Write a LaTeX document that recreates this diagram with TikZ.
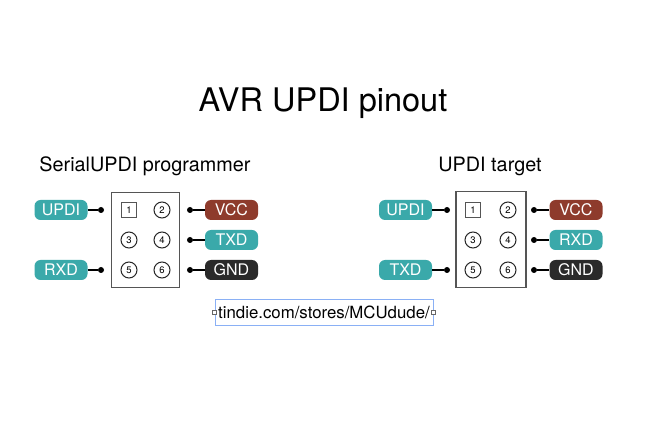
\documentclass[tikz,border=0pt]{standalone}
\usepackage{fontspec}
\setmainfont{TeX Gyre Heros}
\definecolor{sigteal}{HTML}{3AA9AA}
\definecolor{pwrred}{HTML}{8E3B2C}
\definecolor{gnddark}{HTML}{2A2A2A}
\definecolor{pinframe}{HTML}{555555}
\definecolor{selblue}{HTML}{8AB0F5}
\begin{document}
\begin{tikzpicture}[x=1pt,y=-1pt,
  sig/.style={rounded corners=6pt, minimum width=53pt, minimum height=20pt, inner sep=0pt,
    text=white, font=\fontsize{16}{16}\selectfont},
  tealsig/.style={sig, fill=sigteal},
  redsig/.style={sig, fill=pwrred},
  darksig/.style={sig, fill=gnddark},
  header/.style={draw=pinframe, line width=1.2pt, inner sep=0pt},
  sqpin/.style={draw=pinframe, line width=1pt, minimum size=15pt, inner sep=0pt, font=\fontsize{9.5}{9.5}\selectfont},
  rdpin/.style={circle, draw=black!85, line width=1pt, minimum size=16pt, inner sep=0pt, font=\fontsize{9.5}{9.5}\selectfont},
  dot/.style={circle, fill=black, minimum size=6pt, inner sep=0pt},
  lead/.style={line width=1.4pt}
]
\useasboundingbox (0,0) rectangle (653,435);

\node[font=\fontsize{32.5}{32.5}\selectfont] (title) at (323,103) {AVR UPDI pinout};

% ---- SerialUPDI programmer ----
\node[font=\fontsize{19.8}{19.8}\selectfont] (lhead) at (145,166) {SerialUPDI programmer};
\node[header, minimum width=68pt, minimum height=95pt] (lbox) at (145.5,240) {};
\node[sqpin] (lp1) at (129,210) {1};
\node[rdpin] (lp2) at (162,210) {2};
\node[rdpin] (lp3) at (129,240) {3};
\node[rdpin] (lp4) at (162,240) {4};
\node[rdpin] (lp5) at (129,270) {5};
\node[rdpin] (lp6) at (162,270) {6};

\node[tealsig] (lupdi) at (61,210) {UPDI};
\node[tealsig] (lrxd)  at (61,270) {RXD};
\node[redsig]  (lvcc)  at (231.5,210) {VCC};
\node[tealsig] (ltxd)  at (231.5,240) {TXD};
\node[darksig] (lgnd)  at (231.5,270) {GND};

\node[dot] (ld1) at (101,210) {};
\node[dot] (ld5) at (101,270) {};
\node[dot] (ld2) at (190,210) {};
\node[dot] (ld4) at (190,240) {};
\node[dot] (ld6) at (190,270) {};
\draw[lead] (lupdi) -- (ld1);
\draw[lead] (lrxd) -- (ld5);
\draw[lead] (ld2) -- (lvcc);
\draw[lead] (ld4) -- (ltxd);
\draw[lead] (ld6) -- (lgnd);

% ---- UPDI target ----
\node[font=\fontsize{19.8}{19.8}\selectfont] (rhead) at (490,166) {UPDI target};
\node[header, minimum width=70pt, minimum height=96pt] (rbox) at (491,239.5) {};
\node[sqpin] (rp1) at (473,210) {1};
\node[rdpin] (rp2) at (508,210) {2};
\node[rdpin] (rp3) at (473,240) {3};
\node[rdpin] (rp4) at (508,240) {4};
\node[rdpin] (rp5) at (473,270) {5};
\node[rdpin] (rp6) at (508,270) {6};

\node[tealsig] (rupdi) at (405.5,210) {UPDI};
\node[tealsig] (rtxd)  at (405.5,270) {TXD};
\node[redsig]  (rvcc)  at (576,210) {VCC};
\node[tealsig] (rrxd)  at (576,240) {RXD};
\node[darksig] (rgnd)  at (576,270) {GND};

\node[dot] (rd1) at (447,210) {};
\node[dot] (rd5) at (447,270) {};
\node[dot] (rd2) at (534,210) {};
\node[dot] (rd4) at (534,240) {};
\node[dot] (rd6) at (534,270) {};
\draw[lead] (rupdi) -- (rd1);
\draw[lead] (rtxd) -- (rd5);
\draw[lead] (rd2) -- (rvcc);
\draw[lead] (rd4) -- (rrxd);
\draw[lead] (rd6) -- (rgnd);

% ---- link text with selection frame ----
\node[draw=selblue, line width=0.9pt, minimum width=218pt, minimum height=26pt, inner sep=0pt,
  font=\fontsize{16.8}{16.8}\selectfont] (url) at (324,312) {tindie.com/stores/MCUdude/};
\node[draw=black!60, fill=white, line width=0.4pt, minimum size=4pt, inner sep=0pt] (hl) at (url.west) {};
\node[draw=black!60, fill=white, line width=0.4pt, minimum size=4pt, inner sep=0pt] (hr) at (url.east) {};
\end{tikzpicture}
\end{document}
